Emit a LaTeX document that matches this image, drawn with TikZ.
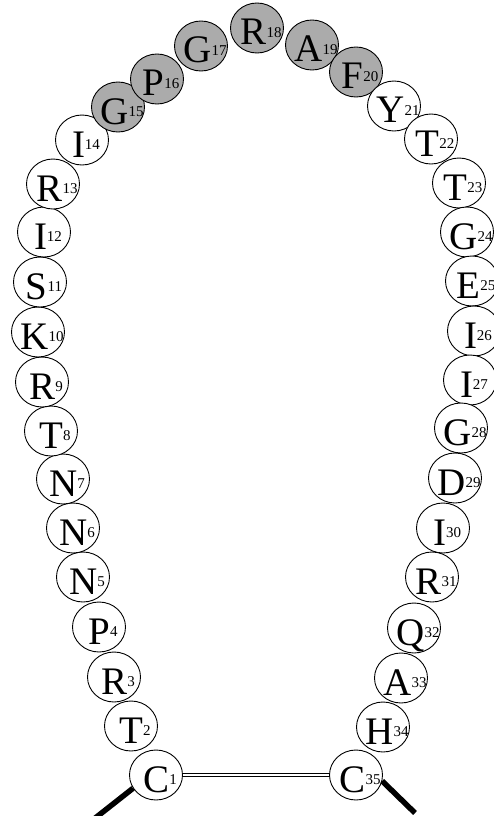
\documentclass[tikz,border=0pt]{standalone}
\usepackage{fontspec}
\setmainfont{Liberation Serif}
\usetikzlibrary{shapes.geometric}

% residue label: big one-letter code with its position number beside it
\newcommand{\aares}[2]{\makebox[0pt]{\hspace{8pt}\raisebox{-17pt}[0pt][0pt]{\fontsize{39}{39}\selectfont #1\raisebox{7.5pt}{\fontsize{15}{15}\selectfont #2}}}}

\begin{document}
\begin{tikzpicture}[
 x=1pt, y=-1pt,
 res/.style={ellipse, draw, line width=0.9pt, fill=white, minimum width=53pt, minimum height=50pt, inner sep=0pt},
 loopres/.style={res, fill=black!33},
 bond/.style={line width=5.5pt},
 ssbond/.style={double, line width=1.3pt, double distance=2pt}
]
\useasboundingbox (0,0) rectangle (494,816);

% left strand
\node[res] (res1) at (156,775) {\aares{C}{1}};
\node[res] (res2) at (131,726) {\aares{T}{2}};
\node[res] (res3) at (114,677) {\aares{R}{3}};
\node[res] (res4) at (99,627) {\aares{P}{4}};
\node[res] (res5) at (83,577) {\aares{N}{5}};
\node[res] (res6) at (73,528) {\aares{N}{6}};
\node[res] (res7) at (63,479) {\aares{N}{7}};
\node[res] (res8) at (51,431) {\aares{T}{8}};
\node[res] (res9) at (42,382) {\aares{R}{9}};
\node[res] (res10) at (38,332) {\aares{K}{10}};
\node[res] (res11) at (40,282) {\aares{S}{11}};
\node[res] (res12) at (44,232) {\aares{I}{12}};
\node[res] (res13) at (53,184) {\aares{R}{13}};
\node[res] (res14) at (82,140) {\aares{I}{14}};

% shaded tip of the loop
\node[loopres] (res15) at (118,107) {\aares{G}{15}};
\node[loopres] (res16) at (157,79) {\aares{P}{16}};
\node[loopres] (res17) at (201,46) {\aares{G}{17}};
\node[loopres] (res18) at (257,28) {\aares{R}{18}};
\node[loopres] (res19) at (312,45) {\aares{A}{19}};
\node[loopres] (res20) at (356,72) {\aares{F}{20}};

% right strand
\node[res] (res21) at (394,106) {\aares{Y}{21}};
\node[res] (res22) at (431,139) {\aares{T}{22}};
\node[res] (res23) at (459,183) {\aares{T}{23}};
\node[res] (res24) at (467,232) {\aares{G}{24}};
\node[res] (res25) at (472,281) {\aares{E}{25}};
\node[res] (res26) at (474,331) {\aares{I}{26}};
\node[res] (res27) at (470,380) {\aares{I}{27}};
\node[res] (res28) at (461,428) {\aares{G}{28}};
\node[res] (res29) at (455,478) {\aares{D}{29}};
\node[res] (res30) at (443,528) {\aares{I}{30}};
\node[res] (res31) at (432,577) {\aares{R}{31}};
\node[res] (res32) at (414,628) {\aares{Q}{32}};
\node[res] (res33) at (401,678) {\aares{A}{33}};
\node[res] (res34) at (383,727) {\aares{H}{34}};
\node[res] (res35) at (356,775) {\aares{C}{35}};

\coordinate (nterm) at (94,819);
\coordinate (cterm) at (415,813);

\draw[ssbond] (res1.east) -- (res35.west);
\draw[bond] (res1.-150) -- (nterm);
\draw[bond] (res35.-13) -- (cterm);
\end{tikzpicture}
\end{document}
